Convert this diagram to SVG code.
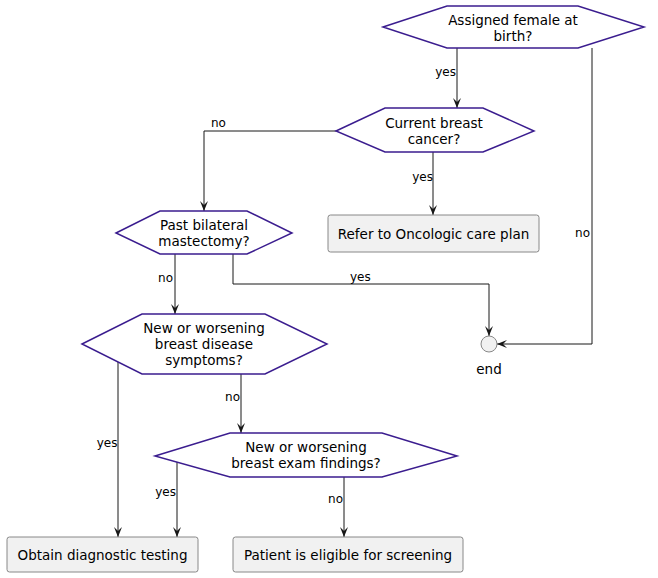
<svg xmlns="http://www.w3.org/2000/svg" width="658" height="578" viewBox="0 0 658 578">
<defs>
<marker id="arr" markerWidth="10" markerHeight="8" refX="10" refY="4" orient="auto" markerUnits="userSpaceOnUse">
<path d="M0,0 L10,4 L0,8 L4,4 Z" fill="#181818"/>
</marker>
</defs>
<style>
.hex{fill:#ffffff;stroke:#3b1d8f;stroke-width:1.5}
.box{fill:#f1f1f1;stroke:#888888;stroke-width:1}
.t{font-family:"DejaVu Sans",sans-serif;font-size:13.5px;fill:#000;text-anchor:middle}
.lbl{font-family:"DejaVu Sans",sans-serif;font-size:12px;fill:#000}
.e{text-anchor:end}
.c{fill:none;stroke:#181818;stroke-width:1;marker-end:url(#arr)}
</style>
<rect width="658" height="578" fill="#ffffff"/>
<g id="connectors">
<path class="c" d="M457,48 V108"/>
<path class="c" d="M592,48 V344 H497"/>
<path class="c" d="M433,152 V215"/>
<path class="c" d="M336,131 H204 V211"/>
<path class="c" d="M175,254 V314"/>
<path class="c" d="M233,254 V284 H489 V336"/>
<path class="c" d="M241,374 V433"/>
<path class="c" d="M118,362 V537"/>
<path class="c" d="M177,462 V537"/>
<path class="c" d="M344,477 V537"/>
<text class="lbl e" x="456" y="76">yes</text>
<text class="lbl e" x="590" y="237">no</text>
<text class="lbl e" x="433" y="181">yes</text>
<text class="lbl" x="211" y="127">no</text>
<text class="lbl e" x="173" y="282">no</text>
<text class="lbl" x="350" y="281">yes</text>
<text class="lbl e" x="240" y="401">no</text>
<text class="lbl e" x="117.5" y="447">yes</text>
<text class="lbl e" x="176" y="496">yes</text>
<text class="lbl e" x="343" y="503">no</text>
</g>
<g id="q1">
<polygon class="hex" points="383,27 447,6 578,6 644,27 578,48 447,48"/>
<text class="t" x="513" y="25">Assigned female at</text>
<text class="t" x="513" y="41">birth?</text>
</g>
<g id="q2">
<polygon class="hex" points="336,131 385,108 483,108 534,131 483,152 385,152"/>
<text class="t" x="434" y="128">Current breast</text>
<text class="t" x="434" y="144">cancer?</text>
</g>
<g id="oncologic">
<rect class="box" x="328" y="215" width="211" height="37" rx="2.5"/>
<text class="t" x="433.5" y="239">Refer to Oncologic care plan</text>
</g>
<g id="q3">
<polygon class="hex" points="116,233 160,211 247,211 292,233 247,254 160,254"/>
<text class="t" x="204" y="230">Past bilateral</text>
<text class="t" x="204" y="246">mastectomy?</text>
</g>
<g id="end">
<circle cx="489" cy="344" r="8" fill="#f1f1f1" stroke="#888888" stroke-width="1"/>
<text class="t" x="489" y="374">end</text>
</g>
<g id="q4">
<polygon class="hex" points="82,344 142,314 265,314 327,344 265,374 142,374"/>
<text class="t" x="204" y="333">New or worsening</text>
<text class="t" x="204" y="349">breast disease</text>
<text class="t" x="204" y="365">symptoms?</text>
</g>
<g id="q5">
<polygon class="hex" points="155,456 230,433 382,433 457,456 382,477 230,477"/>
<text class="t" x="306" y="452">New or worsening</text>
<text class="t" x="306" y="468">breast exam findings?</text>
</g>
<g id="diagnostic">
<rect class="box" x="7" y="537" width="191" height="35" rx="2.5"/>
<text class="t" x="102.5" y="560">Obtain diagnostic testing</text>
</g>
<g id="screening">
<rect class="box" x="233" y="537" width="230" height="35" rx="2.5"/>
<text class="t" x="348" y="560">Patient is eligible for screening</text>
</g>
</svg>
